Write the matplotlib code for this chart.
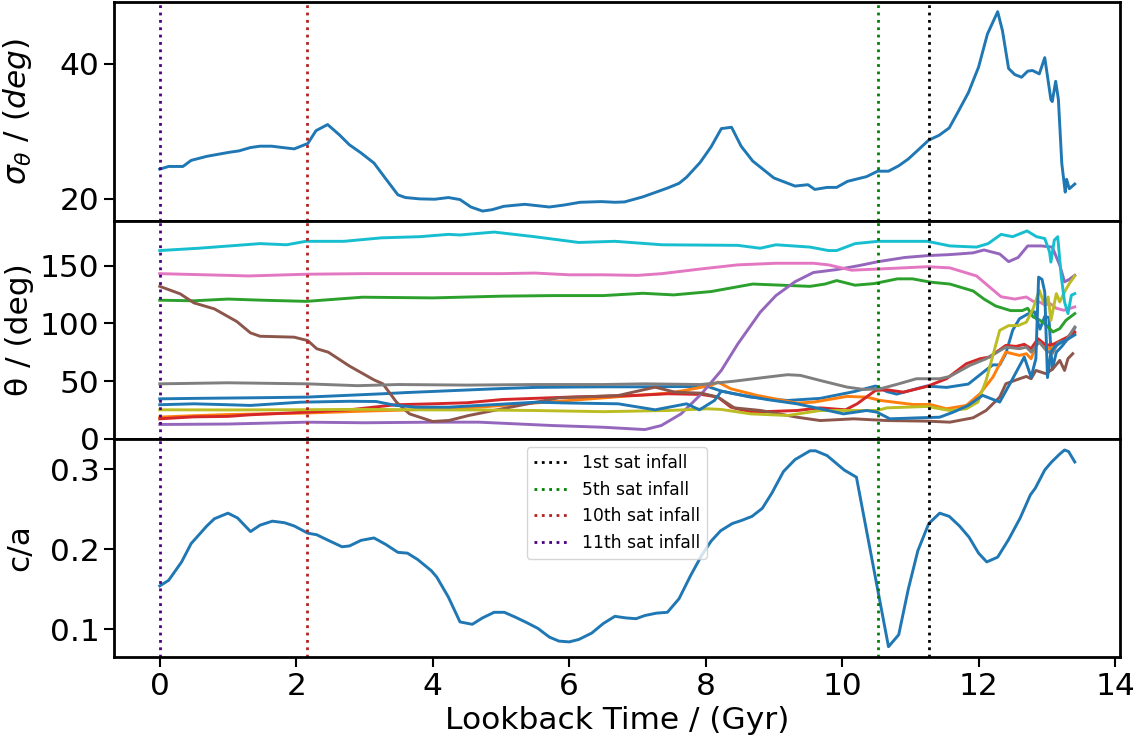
import matplotlib
matplotlib.use("Agg")
import matplotlib.pyplot as plt

# lookback time (Gyr) and sigma_theta (deg)
t_sig = [0, 0.13, 0.34, 0.46, 0.69, 0.8, 1.02, 1.16, 1.33, 1.47, 1.64, 1.8, 1.97, 2.17, 2.29, 2.46,
         2.63, 2.78, 2.95, 3.14, 3.31, 3.49, 3.6, 3.81, 4.03, 4.23, 4.4, 4.56, 4.73, 4.87, 5.04,
         5.35, 5.71, 5.93, 6.16, 6.47, 6.67, 6.81, 7.08, 7.44, 7.61, 7.72, 7.92, 8.08, 8.23, 8.38,
         8.52, 8.69, 9.0, 9.31, 9.5, 9.6, 9.78, 9.92, 10.08, 10.36, 10.52, 10.68, 10.83, 10.97,
         11.11, 11.27, 11.42, 11.57, 11.69, 11.85, 12.0, 12.13, 12.28, 12.35, 12.44, 12.53, 12.63,
         12.72, 12.79, 12.89, 12.97, 13.06, 13.08, 13.13, 13.17, 13.22, 13.27, 13.29, 13.33, 13.41]
sigma = [24.4, 24.8, 24.8, 25.7, 26.3, 26.5, 26.9, 27.1, 27.6, 27.8, 27.8, 27.6, 27.4, 28.2, 30.1, 31.0,
         29.5, 28.0, 26.8, 25.3, 23.0, 20.6, 20.2, 20.0, 19.95, 20.2, 19.9, 18.8, 18.2, 18.4, 18.9,
         19.2, 18.8, 19.1, 19.5, 19.6, 19.5, 19.55, 20.3, 21.6, 22.3, 23.2, 25.4, 27.7, 30.4, 30.6,
         27.8, 25.6, 23.1, 21.9, 22.1, 21.4, 21.7, 21.7, 22.6, 23.3, 24.1, 24.1, 24.9, 25.9,
         27.2, 28.7, 29.4, 30.5, 32.7, 35.7, 39.5, 44.4, 47.7, 44.9, 39.3, 38.4, 38.0,
         38.9, 39.0, 38.5, 40.9, 34.7, 34.4, 37.4, 34.7, 25.2, 21.0, 22.9, 21.5, 22.2]

# theta (deg) for each satellite
t_s1 = [0, 0.5, 1, 1.5, 2.15, 2.7, 3.27, 3.6, 4.0, 4.68, 5.0, 5.5, 6.0, 6.5, 7.0, 7.5, 8.03, 8.23,
        8.66, 9.2, 9.68, 10.17, 10.49, 10.66, 10.8, 11.24, 11.53, 11.85, 12.11, 12.21, 12.31, 12.4,
        12.5, 12.6, 12.72, 12.82, 12.9, 12.97, 13.03, 13.08, 13.14, 13.22, 13.3, 13.41]
th_s1 = [34.6, 35, 35.3, 35.6, 36.1, 37.5, 39, 40, 41, 42.7, 43.5, 44.5, 44.8, 45, 45, 45.2, 45.3, 41.3,
         36.1, 33.2, 35, 40.8, 45.7, 40.8, 38.7, 45.7, 44.5, 47.4, 59.6, 64, 64, 74,
         94, 104, 108, 110, 95, 106, 105, 60, 75, 80, 86, 96]

t_s2 = [0, 0.5, 1, 2.15, 3, 3.66, 4.24, 4.68, 5.5, 6.0, 6.96, 7.45, 7.69, 8.08, 8.18, 8.37, 8.76,
        9.34, 9.59, 10.07, 10.36, 10.56, 10.75, 11.04, 11.29, 11.53, 11.82, 12.02, 12.21, 12.4,
        12.6, 12.7, 12.77, 12.87, 12.95, 13.05, 13.15, 13.25, 13.41]
th_s2 = [18.8, 20, 21, 22.3, 24, 25, 26.5, 27.4, 31, 33.2, 37.5, 39.5, 41.9, 46.2, 49.1, 43.3, 37.5,
         30.9, 31.8, 36.7, 36.1, 33.2, 31.8, 29.7, 29.7, 26, 28.9, 39, 53.4, 75.1,
         72.2, 73.7, 69.3, 85.2, 80, 78, 83, 86, 91]

t_s3 = [0, 0.5, 1, 1.5, 2.15, 2.97, 4, 5, 5.75, 6.5, 7.08, 7.53, 8.08, 8.69, 9.53, 9.75, 9.92, 10.19,
        10.47, 10.81, 11.03, 11.3, 11.58, 11.92, 12.08, 12.25, 12.47, 12.64, 12.72, 12.8, 12.89,
        12.97, 13.09, 13.19, 13.28, 13.41]
th_s3 = [120, 119.5, 121, 120, 119, 122.6, 122, 123.5, 124, 124, 126, 124.6, 127.5, 134, 132, 134, 137, 133,
         134.4, 138.5, 138.5, 135.6, 134, 128, 121, 115, 111, 111, 113, 105.5, 103,
         99.7, 92.5, 95.4, 102.6, 108.4]

t_s4 = [0, 0.5, 1, 1.33, 2.15, 2.78, 3.46, 4.0, 4.5, 5.02, 5.99, 6.96, 7.45, 7.94, 8.18, 8.37, 8.66,
        9.34, 9.68, 10.05, 10.22, 10.49, 10.66, 10.9, 11.24, 11.53, 11.82, 12.02, 12.16, 12.4,
        12.55, 12.67, 12.77, 12.87, 12.99, 13.1, 13.2, 13.3, 13.41]
th_s4 = [17.3, 19, 19.4, 20.8, 23.1, 25.1, 29.5, 30.3, 31.2, 34, 36.1, 37.5, 39, 38.4, 36.1, 27.4, 23.1,
         24.5, 26.8, 25.1, 30.3, 41.9, 42.4, 40.4, 45.3, 52, 65, 69.3, 70.8, 80.9,
         80, 81.8, 78, 86.7, 80.9, 82, 85, 88, 92.5]

t_s5 = [0, 1, 2.15, 3, 4, 4.68, 5.75, 6.5, 7.11, 7.35, 7.64, 7.94, 8.23, 8.47, 8.8, 9.03, 9.31,
        9.58, 9.92, 10.25, 10.53, 10.92, 11.25, 11.58, 11.92, 12.08, 12.31, 12.44, 12.58, 12.72,
        12.92, 13.08, 13.19, 13.26, 13.33, 13.41]
th_s5 = [12.4, 12.8, 14.4, 13.9, 14.4, 14.4, 11.5, 10, 8, 11.5, 21.6, 39, 59.2, 82, 109.6, 124, 136,
         144, 146.5, 150, 153.4, 157, 158.6, 159.5, 161, 163.5, 160, 153.4, 157, 167,
         167, 166, 150.3, 135.9, 138, 141.6]

t_s6 = [0, 0.3, 0.5, 0.8, 1.13, 1.33, 1.47, 1.97, 2.17, 2.3, 2.47, 2.78, 3.14, 3.27, 3.47, 3.66, 4.0,
        4.24, 4.53, 5.02, 5.85, 6.72, 7.26, 7.55, 7.94, 8.18, 8.42, 8.81, 9.34, 9.68, 10.17, 10.66,
        11.24, 11.58, 11.92, 12.11, 12.31, 12.4, 12.6, 12.7, 12.77, 12.84, 12.99, 13.09, 13.19,
        13.26, 13.31, 13.38]
th_s6 = [132, 125.5, 117.7, 112.5, 101.5, 91.7, 88.8, 88, 85, 78, 75, 63, 51, 47.6, 31.7, 21.6, 15,
         15.9, 20.2, 26, 35.5, 37.5, 44.7, 40.4, 39.5, 36.1, 26.8, 24.5, 18.7, 15.8, 17.3, 15.8,
         15.3, 14.4, 18.2, 24.5, 36.1, 47.7, 52, 54, 52, 59.2, 56.3, 60.7, 67.9,
         59.2, 69.4, 73.7]

t_s7 = [0, 1, 1.3, 2.15, 3, 4, 5, 5.5, 6.0, 6.5, 7.0, 7.36, 7.92, 8.47, 9.03, 9.58, 9.8, 10.14,
        10.53, 11.25, 11.58, 11.97, 12.33, 12.53, 12.7, 12.8, 12.89, 12.97, 13.05, 13.14, 13.25, 13.41]
th_s7 = [143, 141.5, 141, 142.5, 143, 143, 143, 143.5, 142, 142, 141.5, 143, 147, 150.6, 152, 152, 150.6, 146,
         147, 149, 148, 141, 123, 121, 122.8, 119, 118.5, 116, 117, 113, 111.3, 114.2]

t_s8 = [0, 1, 2.15, 2.9, 3.5, 4.5, 5.5, 6.5, 7.11, 7.93, 8.42, 8.9, 9.2, 9.39, 9.68, 10.07, 10.32,
        10.56, 10.8, 11.09, 11.43, 11.58, 11.87, 12.11, 12.4, 12.6, 12.7, 12.77, 12.89, 12.99,
        13.08, 13.17, 13.28, 13.41]
th_s8 = [47.6, 48.5, 47.6, 46, 47, 46.5, 47, 47, 47.6, 47, 49.9, 53.4, 55.5, 54.9, 50.5, 44.8, 42.7,
         43.3, 47.1, 52, 52, 54, 63.5, 69.3, 79.4, 78, 79.4, 75.1, 83.8, 76.6,
         73.6, 83.6, 85, 96.8]

t_s9 = [0, 1, 2.15, 3, 4, 4.68, 5.5, 6.5, 7.45, 8.03, 8.23, 8.66, 9.2, 9.68, 10.17, 10.51, 10.66,
        11.24, 11.58, 11.82, 11.99, 12.11, 12.31, 12.44, 12.58, 12.7, 12.8, 12.89, 12.97, 13.02,
        13.06, 13.14, 13.19, 13.26, 13.33, 13.41]
th_s9 = [25.1, 25, 25.2, 25.5, 25, 25, 24.5, 23.5, 24.5, 26, 25.4, 21.6, 20.2, 24.5, 24.5, 24.5, 26.8,
         28, 24.5, 26, 31.8, 50.5, 93.9, 98, 98, 101, 112.7, 128.6, 115.6, 122.8,
         102.6, 125.7, 118.5, 127.2, 134.4, 141]

t_s10 = [0, 0.57, 1.47, 1.86, 2.14, 2.7, 3.25, 3.81, 4.23, 4.4, 4.9, 5.49, 5.88, 6.14, 6.67, 7.36,
         8.47, 8.8, 9.03, 9.53, 9.8, 9.92, 10.19, 10.53, 10.92, 11.25, 11.58, 11.97, 12.14, 12.33,
         12.5, 12.71, 12.85, 12.97, 13.04, 13.06, 13.11, 13.16, 13.21, 13.26, 13.31, 13.36, 13.41]
th_s10 = [163, 165, 169, 168, 171, 171, 174, 175, 177, 176.5, 179, 175, 172, 170, 171, 168,
          167.5, 165, 168, 166, 163, 163, 169, 171, 171, 171, 167, 166, 169, 177,
          175, 180, 175, 173.4, 161.9, 153, 172, 175, 141.6, 118.5, 108.4, 124.3, 125.7]

t_s11 = [0, 0.5, 1, 1.33, 2.06, 2.78, 3.17, 3.46, 3.76, 4.24, 4.68, 5.02, 5.51, 6.0, 6.72, 7.26, 7.72,
         7.91, 8.13, 8.23, 8.42, 8.9, 9.34, 9.68, 10.02, 10.36, 10.51, 10.7, 11.14, 11.43, 11.63,
         11.85, 12.06, 12.31, 12.46, 12.67, 12.77, 12.84, 12.88, 12.93, 12.97, 13.01, 13.06, 13.12,
         13.2, 13.3, 13.41]
th_s11 = [29.5, 30.3, 29.5, 28.9, 31.7, 32.5, 32.3, 28.9, 27.4, 27.4, 28.9, 30, 31.7, 31, 30.3, 25.1, 30.3,
          25.1, 33.2, 41.3, 39, 34, 30.3, 26, 21.6, 24.5, 23.1, 17.3, 18.2, 18.7, 23.1,
          28.9, 37.6, 31.8, 47.7, 70.8, 53.4, 69.4, 140, 138, 127, 53, 75, 80,
          83, 86, 90]

# c/a
t_ca = [0, 0.13, 0.32, 0.46, 0.69, 0.8, 1.0, 1.14, 1.33, 1.47, 1.65, 1.83, 1.97, 2.17, 2.3, 2.47,
        2.67, 2.78, 2.95, 3.14, 3.31, 3.49, 3.63, 3.78, 3.98, 4.06, 4.23, 4.4, 4.58, 4.73, 4.9,
        5.05, 5.21, 5.38, 5.54, 5.71, 5.85, 6.0, 6.14, 6.33, 6.5, 6.67, 6.83, 6.98, 7.11, 7.28,
        7.44, 7.61, 7.78, 7.94, 8.08, 8.22, 8.39, 8.53, 8.68, 8.83, 8.97, 9.14, 9.31, 9.53, 9.61,
        9.78, 10.03, 10.21, 10.68, 10.83, 10.97, 11.11, 11.27, 11.43, 11.57, 11.72, 11.86, 12.0,
        12.12, 12.28, 12.44, 12.61, 12.76, 12.83, 12.97, 13.07, 13.19, 13.26, 13.32, 13.41]
ca = [0.154, 0.161, 0.184, 0.207, 0.229, 0.238, 0.245, 0.239, 0.222, 0.230, 0.235, 0.233, 0.229, 0.220, 0.218, 0.211,
      0.203, 0.204, 0.211, 0.214, 0.206, 0.196, 0.195, 0.187, 0.173, 0.165, 0.140, 0.109, 0.106, 0.114, 0.121,
      0.121, 0.115, 0.108, 0.101, 0.090, 0.085, 0.084, 0.087, 0.095, 0.107, 0.116, 0.114, 0.113, 0.117, 0.120,
      0.121, 0.138, 0.167, 0.192, 0.210, 0.223, 0.232, 0.236, 0.241, 0.251, 0.270, 0.297, 0.312, 0.323, 0.323,
      0.317, 0.299, 0.290, 0.078, 0.093, 0.150, 0.198, 0.232, 0.245, 0.241, 0.229, 0.215, 0.195,
      0.184, 0.190, 0.212, 0.239, 0.268, 0.276, 0.299, 0.309, 0.319, 0.324, 0.322, 0.309]

# satellite infall times
infall_t = [11.27, 10.52, 2.16, 0.0]
infall_lab = ['1st sat infall', '5th sat infall', '10th sat infall', '11th sat infall']
infall_col = ['black', 'green', 'firebrick', 'indigo']

theta_t = [t_s1, t_s2, t_s3, t_s4, t_s5, t_s6, t_s7, t_s8, t_s9, t_s10, t_s11]
theta = [th_s1, th_s2, th_s3, th_s4, th_s5, th_s6, th_s7, th_s8, th_s9, th_s10, th_s11]

plt.rcParams['font.size'] = 22.5
plt.rcParams['axes.linewidth'] = 2
plt.rcParams['xtick.major.width'] = 1.5
plt.rcParams['ytick.major.width'] = 1.5
plt.rcParams['xtick.major.size'] = 7
plt.rcParams['ytick.major.size'] = 7

fig, (ax1, ax2, ax3) = plt.subplots(3, 1, sharex=True, figsize=(11.45, 7.45), dpi=100)
fig.subplots_adjust(left=0.0996, right=0.978, top=0.997, bottom=0.118, hspace=0)

lw = 2.1
ax1.plot(t_sig, sigma, lw=lw)
for i in range(len(theta)):
    ax2.plot(theta_t[i], theta[i], lw=lw, color='C%d' % (i % 10))
ax3.plot(t_ca, ca, lw=lw)

for ax in (ax1, ax2, ax3):
    for t, lab, c in zip(infall_t, infall_lab, infall_col):
        ax.axvline(t, ls=':', color=c, lw=2, label=lab)

ax1.set_ylim(16.8, 49.1)
ax2.set_ylim(0, 189)
ax3.set_ylim(0.065, 0.338)
ax3.set_xlim(-0.67, 14.07)
ax1.set_yticks([20, 40])
ax2.set_yticks([0, 50, 100, 150])
ax3.set_yticks([0.1, 0.2, 0.3])

ax1.set_ylabel(r'$\sigma_{\theta}$ / $(deg)$')
ax2.set_ylabel('θ / (deg)')
ax3.set_ylabel('c/a')
ax3.set_xlabel('Lookback Time / (Gyr)')
ax3.legend(loc='upper center', fontsize=12.3)
fig.align_ylabels([ax1, ax2, ax3])

plt.savefig('out.png', dpi=100)
